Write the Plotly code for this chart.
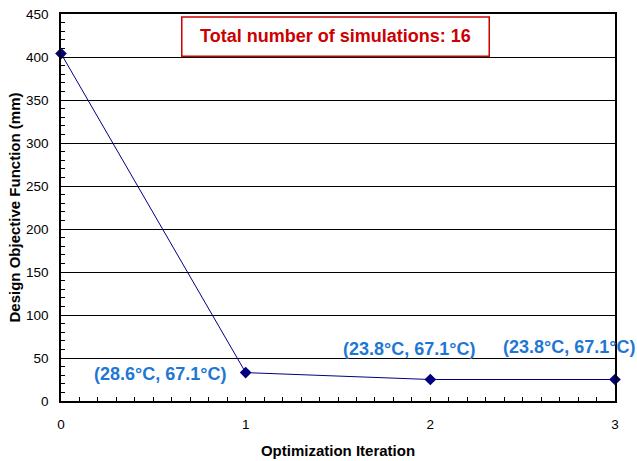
import plotly.graph_objects as go

iterations = [0, 1, 2, 3]
objective = [404, 33, 25, 25]
labels = ["", "(28.6°C, 67.1°C)", "(23.8°C, 67.1°C)", "(23.8°C, 67.1°C)"]
x_ticks = [0, 1, 2, 3]
y_ticks = [0, 50, 100, 150, 200, 250, 300, 350, 400, 450]
title_text = "Total number of simulations: 16"
x_title = "Optimization Iteration"
y_title = "Design Objective Function (mm)"

NAVY = "#000080"
BLUE = "#1f77d4"
RED = "#cc0000"
FONT = "Liberation Sans, Arial, sans-serif"

fig = go.Figure()
fig.add_trace(go.Scatter(
    x=iterations, y=objective, mode="lines+markers",
    line=dict(color=NAVY, width=1),
    marker=dict(symbol="diamond", size=9, color=NAVY),
    cliponaxis=False, showlegend=False,
))

shifts = [None, (-86, -1), (-21, 31), (-46, 33)]
for xi, yi, lab, sh in zip(iterations, objective, labels, shifts):
    if not lab:
        continue
    fig.add_annotation(x=xi, y=yi, xref="x", yref="y", text=lab, showarrow=False,
                       xshift=sh[0], yshift=sh[1], xanchor="center", yanchor="middle",
                       font=dict(family=FONT, size=18, color=BLUE, weight="bold"))

fig.add_shape(type="rect", xref="paper", yref="paper", x0=0.218, x1=0.773, y0=0.891, y1=0.992,
              line=dict(color=RED, width=1.5), fillcolor="white", layer="above")
fig.add_annotation(x=0.4955, y=0.942, xref="paper", yref="paper", text=title_text, showarrow=False,
                   xanchor="center", yanchor="middle",
                   font=dict(family=FONT, size=18, color=RED, weight="bold"))

# y-axis title placed precisely
fig.add_annotation(x=-0.0848, y=0.5, xref="paper", yref="paper", text=y_title, showarrow=False,
                   textangle=-90, xanchor="center", yanchor="middle",
                   font=dict(family=FONT, size=15, color="black", weight="bold"))

fig.update_layout(
    width=637, height=461,
    margin=dict(l=61, r=22, t=14, b=60),
    paper_bgcolor="white", plot_bgcolor="white",
    font=dict(family=FONT, size=13.5, color="black"),
    xaxis=dict(
        range=[0, 3], tickvals=x_ticks, ticks="inside", ticklen=4, tickcolor="black",
        minor=dict(dtick=0.1, ticks="inside", ticklen=4, tickcolor="black"),
        showgrid=False, zeroline=False, showline=True, linecolor="black", linewidth=1.5, mirror=True,
        ticklabelstandoff=10, automargin=False,
        title=dict(text=x_title, font=dict(size=15, weight="bold")),
    ),
    yaxis=dict(
        range=[0, 450], tickvals=y_ticks, ticks="inside", ticklen=4, tickcolor="black",
        minor=dict(dtick=10, ticks="inside", ticklen=4, tickcolor="black"),
        showgrid=True, gridcolor="black", gridwidth=1,
        zeroline=False, showline=True, linecolor="black", linewidth=1.5, mirror=True,
        ticklabelstandoff=8, automargin=False,
    ),
)

fig.write_html("out.html")
